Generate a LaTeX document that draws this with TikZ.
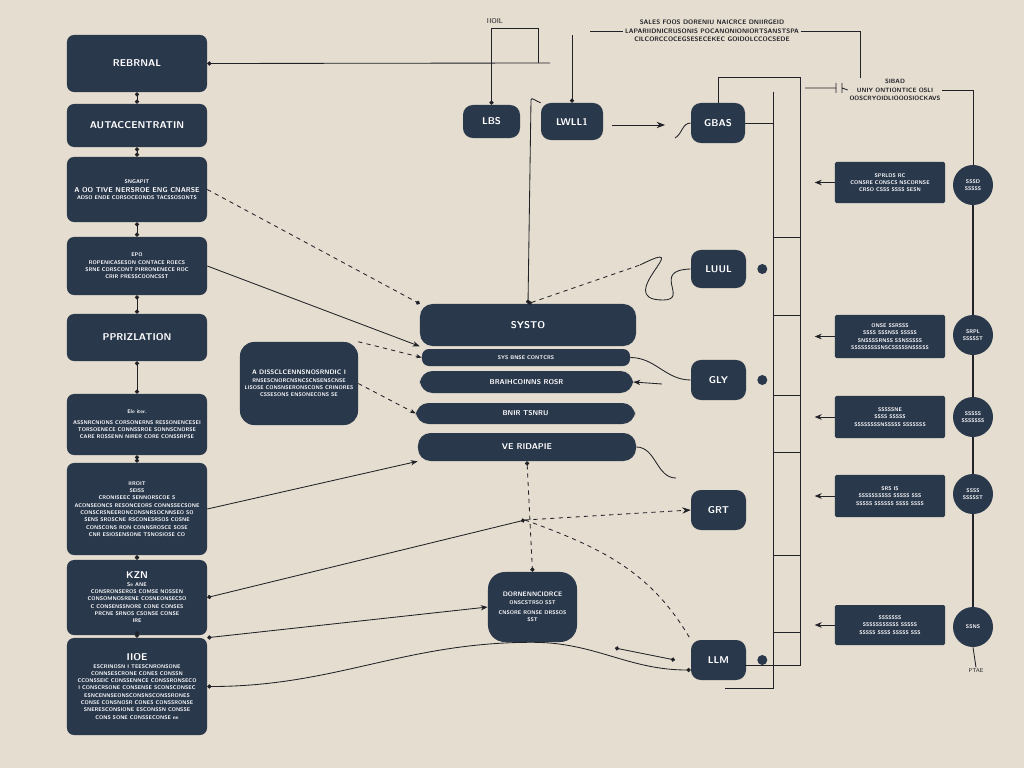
\documentclass[tikz,border=0pt]{standalone}
\usetikzlibrary{arrows.meta,positioning}
\definecolor{paper}{RGB}{229,221,207}
\definecolor{navy}{RGB}{42,56,76}
\definecolor{ink}{RGB}{32,34,40}
\newcommand{\hd}[1]{{\fontsize{7}{8}\selectfont #1}}
\newcommand{\sm}[1]{{\fontsize{3.8}{4.8}\selectfont #1}}
\begin{document}
\begin{tikzpicture}[x=0.025cm,y=-0.025cm,
  panel/.style={fill=navy,rounded corners=5pt,text=white,font=\sffamily\bfseries\fontsize{3.8}{5.2}\selectfont,align=center,inner sep=2pt},
  lbox/.style={panel,minimum width=3.5cm},
  tag/.style={panel,rounded corners=7pt,minimum width=1.375cm,minimum height=1cm},
  bar/.style={panel,rounded corners=9pt},
  rbox/.style={panel,rounded corners=1pt,minimum width=2.75cm},
  disc/.style={circle,fill=navy,minimum size=1cm,inner sep=0pt,text=white,font=\sffamily\bfseries\fontsize{3.8}{5}\selectfont,align=center},
  wire/.style={draw=ink,line width=0.6pt},
  note/.style={text=ink,font=\sffamily\bfseries,align=center,inner sep=1pt}
]
\useasboundingbox[fill=paper] (0,0) rectangle (1024,768);

% left column
\node[lbox,minimum height=1.425cm](b1) at (137,63.5) {\hd{REBRNAL}};
\node[lbox,minimum height=1.075cm](b2) at (137,125.5) {\hd{AUTACCENTRATIN}};
\node[lbox,minimum height=1.625cm](b3) at (137,189.5) {\sm{SNGAPIT}\\[1pt]{\fontsize{5}{6}\selectfont A OO TIVE NERSROE ENG CNARSE}\\\sm{ADSO ENDE CORSOCEONDS TACSSOSONTS}};
\node[lbox,minimum height=1.45cm](b4) at (137,266) {\sm{EPO}\\\sm{ROPENICASESON CONTACE ROECS}\\\sm{SRNE CORSCONT PIRRONENECE ROC}\\\sm{CRIR PRESSCOONCSST}};
\node[lbox,minimum height=1.175cm](b5) at (137,337.5) {\hd{PPRIZLATION}};
\node[lbox,minimum height=1.525cm](b6) at (137,424.5) {\sm{Ele iter.}\\[2pt]\sm{ASSNRCNIONS CORSONERNS RESSONENCESEI}\\\sm{TORSOENECE CONNSSROE SONNSCNORSE}\\\sm{CARE ROSSENN NIRER CORE CONSSRPSE}};
\node[lbox,minimum height=2.3cm](b7) at (137,509) {\sm{IIROIT}\\\sm{SEISS}\\\sm{CRONISEEC SENNORSCOE S}\\\sm{ACONSEONCS RESONCEORS CONNSSECSONE}\\\sm{CONSCRSNEERONCONSNRSOCNNSEO SO}\\\sm{SENS SROSCNE RSCONESRSOS COSNE}\\\sm{CONSCONS RON CONNSROSCE SOSE}\\\sm{CNR ESIOSENSONE TSNOSIOSE CO}};
\node[lbox,minimum height=1.875cm](b8) at (137,597.5) {\hd{KZN}\\\sm{Se ANE}\\\sm{CONSRONSEROS COMSE NOSSEN}\\\sm{CONSOMNOSRENE COSNEONSECSO}\\\sm{C CONSENSSNORE CONE CONSES}\\\sm{PRCNE SRNOS CSONSE CONSE}\\\sm{IRE}};
\node[lbox,minimum height=2.425cm](b9) at (137,686.5) {\hd{IIOE}\\\sm{ESCRINOSN I TEESCNRONSONE}\\\sm{CONNSESCRONE CONES CONSSN}\\\sm{CCONSSEIC CONSSENNCE CONSSRONSECO}\\\sm{I CONSCRSONE CONSENSE SCONSCONSEC}\\\sm{ESNCENNSEONSCONSNSCONSSRONES}\\\sm{CONSE CONSNOSR CONES CONSSRONSE}\\\sm{SNERESCONSIONE ESCONSSN CONSSE}\\\sm{CONS SONE CONSSECONSE ne}};
\foreach \a/\b in {b1/b2,b2/b3,b3/b4,b4/b5,b5/b6,b6/b7,b7/b8,b8/b9}
  \draw[wire,{Circle[length=3pt]}-{Circle[length=3pt]}] (\a.south) -- (\b.north);

% top row
\node[tag,minimum width=1.425cm,minimum height=0.825cm](lbs) at (491.5,121.5) {\hd{LBS}};
\node[tag,minimum width=1.55cm,minimum height=0.925cm](lwl) at (572,121.5) {\hd{LWLL1}};
\node[tag,minimum width=1.35cm](gbas) at (718,123) {\hd{GBAS}};
\node[note,font=\sffamily\fontsize{5}{6}\selectfont](lbl) at (495,21) {IIOIL};
\node[note,font=\sffamily\bfseries\fontsize{4.6}{6}\selectfont](tb) at (712,31) {SALES FOOS DORENIU NAICRCE DNIIRGEID\\LAPARIIDNICRUSONIS POCANONIONIORTSANSTSPA\\CILCORCCOCEGSESECEKEC GOIDOLCCOCSEDE};
\node[note,font=\sffamily\bfseries\fontsize{4.4}{6}\selectfont](rt) at (895,90) {SIBAD\\UNIY ONTIONTICE OSLI\\OOSCRYOIDLIOOOSIOCKAVS};

% middle tags
\node[tag,minimum height=0.95cm](luul) at (718.5,269) {\hd{LUUL}};
\node[tag](gly) at (718.5,380) {\hd{GLY}};
\node[tag](grt) at (718.5,510) {\hd{GRT}};
\node[tag](llm) at (718.5,660) {\hd{LLM}};

% centre stack
\node[bar,minimum width=5.4cm,minimum height=1.05cm](top) at (528,325) {\hd{SYSTO}};
\node[bar,minimum width=5.2cm,minimum height=0.425cm,rounded corners=5pt](thin) at (526,357.5) {\sm{SYS BNSE CONTCRS}};
\node[bar,minimum width=5.325cm,minimum height=0.55cm](bar3) at (526.5,382) {{\fontsize{5}{6}\selectfont BRAIHCOINNS ROSR}};
\node[bar,minimum width=5.475cm,minimum height=0.525cm](bar4) at (525.5,413.5) {{\fontsize{5}{6}\selectfont BNIR TSNRU}};
\node[bar,minimum width=5.45cm,minimum height=0.7cm](bar5) at (527,447) {{\fontsize{6}{7}\selectfont VE RIDAPIE}};

\node[panel,rounded corners=10pt,minimum width=2.95cm,minimum height=2.075cm](lm) at (299,383.5) {{\fontsize{4.6}{6}\selectfont A DISSCLCENNSNOSRNDIC I}\\\sm{RNSESCNORCNSNCSCNSENSCNSE}\\\sm{LISOSE CONSNSERONSCONS CRINORES}\\\sm{CSSESONS ENSONECONS SE}};
\node[panel,rounded corners=12pt,minimum width=2.225cm,minimum height=1.75cm](bc) at (532.5,607) {{\fontsize{4.6}{6}\selectfont DORNENNCIDRCE}\\\sm{ONSCSTRSO SST}\\[2pt]\sm{CNSORE RONSE DRSSOS}\\\sm{SST}};

% right column
\node[rbox,minimum height=1.025cm](r1) at (890,182.5) {\sm{SPRLDS RC}\\\sm{CONSRE CONSCS NSCORNSE}\\\sm{CRSO CSSS SSSS SESN}};
\node[rbox,minimum height=1.075cm](r2) at (890,336.5) {\sm{ONSE SSRSSS}\\\sm{SSSS SSSNSS SSSSS}\\\sm{SNSSSSRNSS SSNSSSSS}\\\sm{SSSSSSSSSNSCSSSSSNSSSSS}};
\node[rbox,minimum height=1.05cm](r3) at (890,417) {\sm{SSSSSNE}\\\sm{SSSS SSSSS}\\\sm{SSSSSSSSNSSSSS SSSSSSS}};
\node[rbox,minimum height=1.05cm](r4) at (890,496) {\sm{SRS IS}\\\sm{SSSSSSSSSS SSSSS SSS}\\\sm{SSSSS SSSSSS SSSS SSSS}};
\node[rbox,minimum height=1cm](r5) at (890,625) {\sm{SSSSSSS}\\\sm{SSSSSSSSSSS SSSSS}\\\sm{SSSSS SSSS SSSSS SSS}};
\node[disc](c1) at (973,185) {SSSD\\SSSSS};
\node[disc](c2) at (973,335) {SRPL\\SSSSST};
\node[disc](c3) at (973,417) {SSSSS\\SSSSSSS};
\node[disc](c4) at (973,494) {SSSS\\SSSSST};
\node[disc](c5) at (973,627) {SSNS};
\node[note,font=\sffamily\fontsize{4}{5}\selectfont](ptae) at (976,671) {PTAE};
\foreach \a/\b in {c1/c2,c2/c3,c3/c4,c4/c5}
  \draw[wire,line width=1pt] (\a.south) -- (\b.north);
\draw[wire] (c5.south) -- (ptae.north);
\foreach \r in {r1,r2,r3,r4,r5}
  \draw[wire,-{Stealth[length=5pt,width=4pt]}] (\r.west) -- ++(-20,0);

% top wiring
\coordinate (h1) at (550,63);
\coordinate (k2) at (538,28);
\coordinate (k3) at (572,35);
\coordinate (k5) at (590,31);
\coordinate (k6) at (860,31);
\coordinate (k7) at (860,78);
\coordinate (a1) at (612,125);
\coordinate (a2) at (665,125);
\coordinate (a3) at (675,138);
\coordinate (v1) at (531,100);
\draw[wire,{Circle[length=3pt]}-] (b1.east) -- (h1);
\draw[wire,{Circle[length=3pt]}-] (lbs.north) |- (k2) -- (k2 |- h1);
\draw[wire,{Circle[length=3pt]}-] (lwl.north) -- (k3);
\draw[wire,-{Stealth[length=6pt]}] (a1) -- (a2);
\draw[wire] (a3) to[out=30,in=180] (gbas.west);
\draw[wire] (k5) -- (tb.west);
\draw[wire] (tb.east) -- (k6) -- (k7);
\draw[wire] (rt.east) -| (c1.north);
\draw[wire] (805,88) -- (836,88) (836,83) -- (836,93) (842,83) -- (842,93) (842,88) -- (rt.west);
\draw[wire] (lwl.north west) to[out=170,in=90] (v1);
\draw[wire,-{Circle[length=3pt]}] (v1) -- (top.north);

% right bracket
\coordinate (q1) at (773,92);
\coordinate (q2) at (800,77);
\draw[wire] (gbas.north) |- (q2) -- (800,665) -- (745,665);
\draw[wire] (gbas.east) -| (q1) -- (773,688) -- (725,688);
\foreach \y in {237,315,395,452,555,632}
  \draw[wire] (773,\y) -- (800,\y);
\foreach \t in {luul,gly,llm}
  \fill[navy] ([xshift=0.4cm]\t.east) circle (5);

% centre wiring
\coordinate (j1) at (525,520);
\coordinate (p1) at (640,265);
\draw[wire,dashed,{Circle[length=3pt]}-] (top.north) -- (p1);
\draw[wire] (p1) .. controls (700,235) and (610,300) .. (663,300) .. controls (690,300) and (650,270) .. (luul.west);
\draw[wire,dashed,-{Circle[length=3pt]}] (b3.east) -- (top.north west);
\draw[wire,-{Stealth[length=5pt]}] (b4.east) -- (top.south west);
\draw[wire,dashed,-{Stealth[length=4pt]}] (lm.north east) -- (thin.west);
\draw[wire,dashed,-{Stealth[length=4pt]}] (lm.east) -- (bar4.west);
\draw[wire,-{Stealth[length=5pt]}] (b7.east) -- (bar5.south west);
\draw[wire,{Circle[length=3pt]}-{Circle[length=3pt]}] (b8.east) -- (j1);
\draw[wire,dashed,-{Stealth[length=6pt]}] (j1) -- (grt.west);
\draw[wire,{Circle[length=3pt]}-{Stealth[length=5pt]}] (b9.north east) -- (bc.west);
\draw[wire,{Circle[length=3pt]}-{Circle[length=3pt]}] (b9.east) to[out=0,in=180] (bc.south) to[out=0,in=180] ([yshift=-0.25cm]llm.west);
\draw[wire,dashed] (j1) to[out=-20,in=120] (llm.north west);
\draw[wire,dashed,{Circle[length=3pt]}-{Circle[length=3pt]}] (bar5.south) -- (bc.north);
\draw[wire,{Circle[length=3pt]}-{Circle[length=3pt]}] (615,648) -- (675,660);
\draw[wire] (thin.east) to[out=0,in=180] (gly.west);
\draw[wire,-{Stealth[length=5pt]}] (662,384) -- (bar3.east);
\draw[wire] (bar5.east) to[out=0,in=180] (676,478);
\end{tikzpicture}
\end{document}
